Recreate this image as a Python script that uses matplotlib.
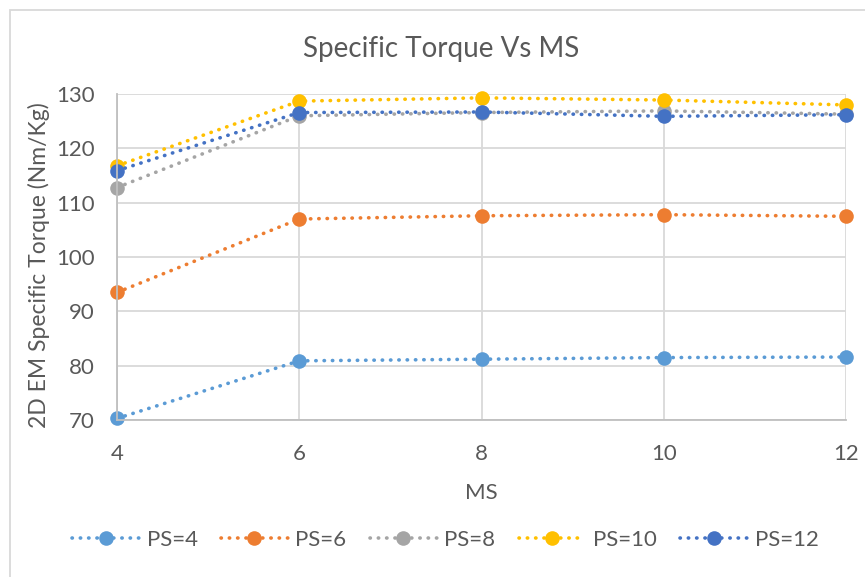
import matplotlib.pyplot as plt
from matplotlib.patches import Rectangle

# ---- data ----
ms = [4, 6, 8, 10, 12]
ps4 = [70.3, 80.9, 81.2, 81.5, 81.6]
ps6 = [93.5, 107.0, 107.6, 107.8, 107.5]
ps8 = [112.8, 126.0, 126.6, 126.9, 126.3]
ps10 = [116.8, 128.7, 129.3, 128.9, 128.0]
ps12 = [115.9, 126.6, 126.7, 125.9, 126.2]

series = [("PS=4", ps4, "#5B9BD5"),
          ("PS=6", ps6, "#ED7D31"),
          ("PS=8", ps8, "#A5A5A5"),
          ("PS=10", ps10, "#FFC000"),
          ("PS=12", ps12, "#4472C4")]

plt.rcParams["font.family"] = ["Lato", "DejaVu Sans"]
txt = "#595959"
grid = "#d9d9d9"

fig = plt.figure(figsize=(8.65, 5.77), dpi=100)
ax = fig.add_axes([0.1353, 0.272, 0.8427, 0.565])

for name, vals, col in series:
    ax.plot(ms, vals, linestyle=(0, (0.1, 2.2)), dash_capstyle="round",
            linewidth=2.6, color=col, marker="o", markersize=10.5,
            markeredgewidth=0, label=name, clip_on=False)

ax.set_xlim(4, 12)
ax.set_ylim(70, 130)
ax.set_xticks(ms)
ax.set_yticks(range(70, 131, 10))
ax.grid(True, color=grid, linewidth=1.3)
ax.set_axisbelow(True)
for s in ["top", "right"]:
    ax.spines[s].set_visible(False)
for s in ["left", "bottom"]:
    ax.spines[s].set_color("#bfbfbf")
    ax.spines[s].set_linewidth(1.3)
ax.tick_params(length=0, labelsize=16, colors=txt)
ax.tick_params(axis="x", pad=17)
ax.tick_params(axis="y", pad=16)

fig.text(0.51, 0.915, "Specific Torque Vs MS", fontsize=20, color=txt,
         ha="center", va="center")
ax.set_xlabel("MS", fontsize=16, color=txt, labelpad=14)
ax.set_ylabel("2D EM Specific Torque (Nm/Kg)", fontsize=16.5, color=txt)
ax.yaxis.set_label_coords(-0.092, 0.475)

fig.legend(loc="center", bbox_to_anchor=(0.515, 0.064), ncol=5, frameon=False,
           fontsize=16, labelcolor=txt, handlelength=3.0, columnspacing=1.05,
           handletextpad=0.35)

# chart border
fig.patches.append(Rectangle((10 / 865, -0.1), 1.2, 1 - 10 / 577 + 0.1,
                             transform=fig.transFigure, fill=False,
                             edgecolor="#d9d9d9", linewidth=1.3))

fig.savefig("out.png", dpi=100)
